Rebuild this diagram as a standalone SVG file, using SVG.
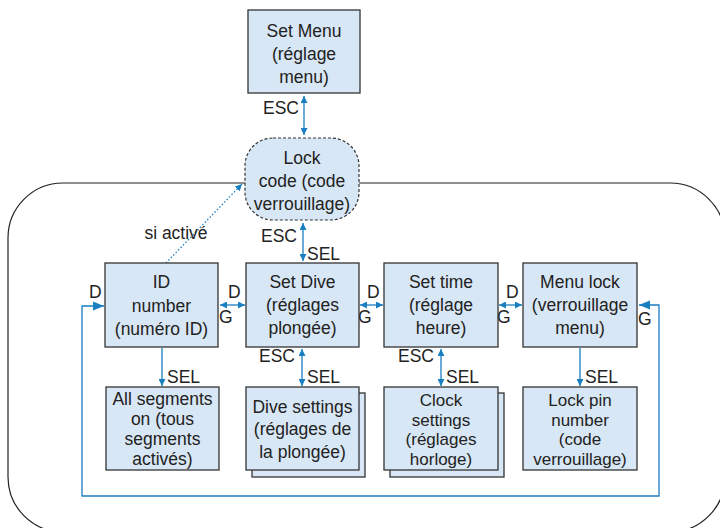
<svg xmlns="http://www.w3.org/2000/svg" width="720" height="528" viewBox="0 0 720 528">
<defs>
<style>
.box{fill:#d8e7f5;stroke:#333;stroke-width:1.3}
.t{font-family:"Liberation Sans",Arial,sans-serif;font-size:17.5px;fill:#222;text-anchor:middle}
.s{font-size:17px}
.l{font-family:"Liberation Sans",Arial,sans-serif;font-size:17.5px;fill:#222}
.c{fill:none;stroke:#1a7fc1;stroke-width:1.3}
</style>
<marker id="ah" viewBox="0 0 10 10" refX="10" refY="5" markerWidth="7" markerHeight="7" orient="auto-start-reverse" markerUnits="userSpaceOnUse"><path d="M0,0 L10,5 L0,10 z" fill="#1a7fc1"/></marker>
<marker id="ahb" viewBox="0 0 10 10" refX="10" refY="5" markerWidth="11" markerHeight="11" orient="auto-start-reverse" markerUnits="userSpaceOnUse"><path d="M0,1 L10,5 L0,9 z" fill="#1a7fc1"/></marker>
</defs>
<rect x="8" y="183" width="717" height="349" rx="55" fill="none" stroke="#222" stroke-width="1.2"/>
<g id="connectors">
<line class="c" x1="304" y1="96" x2="304" y2="135" marker-start="url(#ah)" marker-end="url(#ah)"/>
<line class="c" x1="303" y1="223" x2="303" y2="261" marker-start="url(#ah)" marker-end="url(#ah)"/>
<line class="c" x1="220" y1="305" x2="245" y2="305" marker-start="url(#ah)" marker-end="url(#ah)"/>
<line class="c" x1="360" y1="305" x2="383" y2="305" marker-start="url(#ah)" marker-end="url(#ah)"/>
<line class="c" x1="499" y1="305" x2="522" y2="305" marker-start="url(#ah)" marker-end="url(#ah)"/>
<line class="c" x1="162" y1="348" x2="162" y2="386" marker-end="url(#ah)"/>
<line class="c" x1="302" y1="349" x2="302" y2="386" marker-start="url(#ah)" marker-end="url(#ah)"/>
<line class="c" x1="441" y1="349" x2="441" y2="386" marker-start="url(#ah)" marker-end="url(#ah)"/>
<line class="c" x1="580" y1="348" x2="580" y2="386" marker-end="url(#ah)"/>
<path class="c" d="M639,305 H659 V496 H82 V306 H104" marker-start="url(#ahb)" marker-end="url(#ahb)"/>
<line class="c" x1="166" y1="263" x2="242" y2="184" stroke-dasharray="1.5 2" marker-end="url(#ah)"/>
<text class="l" x="299" y="114" text-anchor="end">ESC</text>
<text class="l" x="297" y="242" text-anchor="end">ESC</text>
<text class="l" x="307" y="260">SEL</text>
<text class="l" x="295" y="362" text-anchor="end">ESC</text>
<text class="l" x="307" y="383">SEL</text>
<text class="l" x="434" y="362" text-anchor="end">ESC</text>
<text class="l" x="446" y="383">SEL</text>
<text class="l" x="167" y="383">SEL</text>
<text class="l" x="585" y="383">SEL</text>
<text class="l" x="89" y="298">D</text>
<text class="l" x="228" y="298">D</text>
<text class="l" x="219" y="323">G</text>
<text class="l" x="367" y="298">D</text>
<text class="l" x="358" y="323">G</text>
<text class="l" x="506" y="298">D</text>
<text class="l" x="497" y="323">G</text>
<text class="l" x="638" y="325">G</text>
<text class="t" x="176" y="239">si activé</text>
</g>
<g id="setmenu">
<rect class="box" x="248" y="10" width="112" height="83"/>
<text class="t" x="304" y="37">Set Menu</text>
<text class="t" x="304" y="60">(réglage</text>
<text class="t" x="304" y="83">menu)</text>
</g>
<g id="lockcode">
<rect x="245" y="138" width="114" height="82" rx="28" fill="#d8e7f5" stroke="#333" stroke-width="1.2" stroke-dasharray="3 2"/>
<text class="t" x="302" y="164">Lock</text>
<text class="t" x="302" y="187">code (code</text>
<text class="t" x="302" y="210">verrouillage)</text>
</g>
<g id="idnumber">
<rect class="box" x="105" y="263" width="113" height="84"/>
<text class="t" x="161.5" y="288">ID</text>
<text class="t" x="161.5" y="312">number</text>
<text class="t" x="161.5" y="335">(numéro ID)</text>
</g>
<g id="setdive">
<rect class="box" x="246" y="263" width="113" height="84"/>
<text class="t" x="302.5" y="288">Set Dive</text>
<text class="t" x="302.5" y="311">(réglages</text>
<text class="t" x="302.5" y="334">plongée)</text>
</g>
<g id="settime">
<rect class="box" x="384" y="263" width="114" height="84"/>
<text class="t" x="441" y="288">Set time</text>
<text class="t" x="441" y="311">(réglage</text>
<text class="t" x="441" y="334">heure)</text>
</g>
<g id="menulock">
<rect class="box" x="523" y="263" width="114" height="84"/>
<text class="t" x="580" y="288">Menu lock</text>
<text class="t" x="580" y="311">(verrouillage</text>
<text class="t" x="580" y="334">menu)</text>
</g>
<g id="allsegments">
<rect class="box" x="106" y="387" width="113" height="83"/>
<text class="t" x="162.5" y="405">All segments</text>
<text class="t" x="162.5" y="425">on (tous</text>
<text class="t" x="162.5" y="445">segments</text>
<text class="t" x="162.5" y="465">activés)</text>
</g>
<g id="divesettings">
<rect class="box" x="252" y="393" width="113" height="84"/>
<rect class="box" x="246" y="387" width="113" height="83"/>
<text class="t" x="302.5" y="413">Dive settings</text>
<text class="t" x="302.5" y="435">(réglages de</text>
<text class="t" x="302.5" y="458">la plongée)</text>
</g>
<g id="clocksettings">
<rect class="box" x="390" y="393" width="114" height="84"/>
<rect class="box" x="384" y="387" width="114" height="83"/>
<text class="t s" x="441" y="406">Clock</text>
<text class="t s" x="441" y="425.5">settings</text>
<text class="t s" x="441" y="445">(réglages</text>
<text class="t s" x="441" y="464.5">horloge)</text>
</g>
<g id="lockpin">
<rect class="box" x="523" y="387" width="114" height="83"/>
<text class="t s" x="580" y="406">Lock pin</text>
<text class="t s" x="580" y="425.5">number</text>
<text class="t s" x="580" y="445">(code</text>
<text class="t s" x="580" y="464.5">verrouillage)</text>
</g>
</svg>
